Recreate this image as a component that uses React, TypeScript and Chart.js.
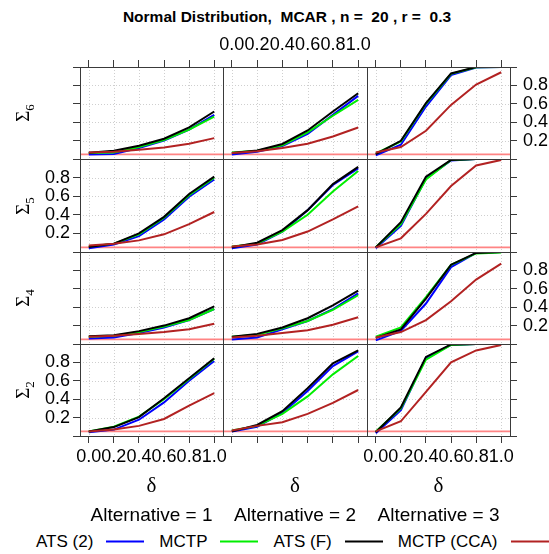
import React, { useEffect, useRef } from 'react';
import { Chart, registerables } from 'chart.js';

Chart.register(...registerables);

// ---------------- data ----------------
const deltas = [0, 0.2, 0.4, 0.6, 0.8, 1.0];
const xTickValues = [0, 0.2, 0.4, 0.6, 0.8, 1.0];
const yTickValues = [0, 0.2, 0.4, 0.6, 0.8, 1.0];
const xRange = [-0.07, 1.07];
const yRange = [0, 1.0];
const alphaLevel = 0.05;

const sigmaSubscripts = ['6', '5', '4', '2'];
const alternatives = ['1', '2', '3'];
const seriesNames = ['ATS (2)', 'MCTP', 'ATS (F)', 'MCTP (CCA)'];
const seriesColors = ['#0000ff', '#00ee00', '#000000', '#b22222'];
const titleText = 'Normal Distribution,  MCAR , n =  20 , r =  0.3';
const xAxisLabel = 'δ';

// each array: [Alternative 1, Alternative 2, Alternative 3], values at deltas
const ats2Sigma6 = [
  [0.05, 0.055, 0.12, 0.2, 0.32, 0.48],
  [0.05, 0.08, 0.14, 0.274, 0.48, 0.686],
  [0.04, 0.155, 0.57, 0.913, 0.995, 1.0],
];
const mctpSigma6 = [
  [0.065, 0.07, 0.13, 0.205, 0.32, 0.46],
  [0.07, 0.09, 0.15, 0.29, 0.47, 0.643],
  [0.06, 0.19, 0.6, 0.925, 0.998, 1.0],
];
const atsFSigma6 = [
  [0.068, 0.09, 0.144, 0.22, 0.343, 0.516],
  [0.065, 0.093, 0.163, 0.31, 0.516, 0.715],
  [0.054, 0.198, 0.607, 0.93, 1.0, 1.0],
];
const ccaSigma6 = [
  [0.07, 0.08, 0.1, 0.126, 0.166, 0.227],
  [0.065, 0.085, 0.12, 0.166, 0.245, 0.343],
  [0.07, 0.13, 0.307, 0.588, 0.81, 0.943],
];

const ats2Sigma5 = [
  [0.04, 0.08, 0.17, 0.35, 0.595, 0.78],
  [0.04, 0.08, 0.22, 0.45, 0.72, 0.9],
  [0.04, 0.28, 0.79, 0.985, 1.0, 1.0],
];
const mctpSigma5 = [
  [0.06, 0.09, 0.19, 0.37, 0.61, 0.8],
  [0.06, 0.09, 0.22, 0.4, 0.65, 0.87],
  [0.05, 0.3, 0.78, 0.99, 1.0, 1.0],
];
const atsFSigma5 = [
  [0.055, 0.09, 0.2, 0.378, 0.624, 0.81],
  [0.05, 0.1, 0.235, 0.45, 0.73, 0.915],
  [0.05, 0.32, 0.81, 0.99, 1.0, 1.0],
];
const ccaSigma5 = [
  [0.07, 0.09, 0.125, 0.19, 0.3, 0.43],
  [0.06, 0.08, 0.13, 0.22, 0.35, 0.49],
  [0.05, 0.147, 0.41, 0.71, 0.93, 0.99],
];

const ats2Sigma4 = [
  [0.06, 0.07, 0.12, 0.18, 0.26, 0.38],
  [0.05, 0.07, 0.16, 0.25, 0.38, 0.55],
  [0.04, 0.143, 0.44, 0.836, 0.99, 1.0],
];
const mctpSigma4 = [
  [0.08, 0.09, 0.13, 0.19, 0.26, 0.38],
  [0.08, 0.1, 0.17, 0.25, 0.37, 0.53],
  [0.08, 0.18, 0.51, 0.86, 0.985, 0.995],
];
const atsFSigma4 = [
  [0.085, 0.095, 0.14, 0.2, 0.28, 0.41],
  [0.08, 0.11, 0.18, 0.28, 0.42, 0.58],
  [0.067, 0.158, 0.494, 0.862, 0.99, 1.0],
];
const ccaSigma4 = [
  [0.08, 0.09, 0.11, 0.13, 0.16, 0.22],
  [0.07, 0.09, 0.12, 0.15, 0.21, 0.29],
  [0.07, 0.13, 0.26, 0.465, 0.7, 0.873],
];

const ats2Sigma2 = [
  [0.04, 0.07, 0.177, 0.365, 0.6, 0.816],
  [0.05, 0.1, 0.25, 0.49, 0.76, 0.92],
  [0.03, 0.28, 0.85, 0.99, 1.0, 1.0],
];
const mctpSigma2 = [
  [0.05, 0.1, 0.21, 0.4, 0.62, 0.84],
  [0.06, 0.11, 0.24, 0.43, 0.67, 0.87],
  [0.05, 0.3, 0.83, 0.99, 1.0, 1.0],
];
const atsFSigma2 = [
  [0.05, 0.097, 0.205, 0.41, 0.628, 0.845],
  [0.05, 0.12, 0.27, 0.52, 0.79, 0.93],
  [0.04, 0.31, 0.86, 0.995, 1.0, 1.0],
];
const ccaSigma2 = [
  [0.05, 0.07, 0.11, 0.185, 0.33, 0.466],
  [0.06, 0.11, 0.15, 0.24, 0.36, 0.5],
  [0.05, 0.16, 0.48, 0.8, 0.93, 0.99],
];

// rows top->bottom: Σ6, Σ5, Σ4, Σ2 ; series order: ATS (2), MCTP, ATS (F), MCTP (CCA)
const panelRows = [
  [ats2Sigma6, mctpSigma6, atsFSigma6, ccaSigma6],
  [ats2Sigma5, mctpSigma5, atsFSigma5, ccaSigma5],
  [ats2Sigma4, mctpSigma4, atsFSigma4, ccaSigma4],
  [ats2Sigma2, mctpSigma2, atsFSigma2, ccaSigma2],
];

// ---------------- layout ----------------
const M = 45;
const colX = [80, 223, 367];
const colW = [143, 144, 143];
const rowY = [67, 159, 252, 344];
const rowH = [92, 93, 92, 92];
const SANS = "'Liberation Sans', Arial, Helvetica, sans-serif";
const SERIF = "'Liberation Serif', 'DejaVu Serif', serif";

const panelDecor = {
  id: 'panelDecor',
  beforeDatasetsDraw(chart: any) {
    const { ctx, chartArea: a, scales } = chart;
    const xs = scales.x;
    const ys = scales.y;
    ctx.save();
    ctx.strokeStyle = '#cfcfcf';
    ctx.lineWidth = 1;
    ctx.setLineDash([1, 2]);
    xTickValues.forEach((v) => {
      const px = Math.round(xs.getPixelForValue(v)) + 0.5;
      ctx.beginPath();
      ctx.moveTo(px, a.top);
      ctx.lineTo(px, a.bottom);
      ctx.stroke();
    });
    yTickValues.forEach((v) => {
      const py = Math.round(ys.getPixelForValue(v)) + 0.5;
      ctx.beginPath();
      ctx.moveTo(a.left, py);
      ctx.lineTo(a.right, py);
      ctx.stroke();
    });
    ctx.restore();
  },
  afterDatasetsDraw(chart: any) {
    const { ctx, chartArea: a } = chart;
    ctx.save();
    ctx.strokeStyle = '#3a3a3a';
    ctx.lineWidth = 1;
    ctx.setLineDash([]);
    const l = Math.round(a.left) + 0.5;
    const t = Math.round(a.top) + 0.5;
    const r = Math.round(a.right) + 0.5;
    const b = Math.round(a.bottom) + 0.5;
    ctx.strokeRect(l, t, r - l, b - t);
    ctx.restore();
  },
};

function makeAxis(
  kind: 'x' | 'y',
  position: string,
  showTicks: boolean,
  showLabels: boolean,
  padding: number
) {
  const range = kind === 'x' ? xRange : yRange;
  const tickVals = kind === 'x' ? xTickValues : yTickValues;
  return {
    type: 'linear',
    axis: kind,
    position,
    min: range[0],
    max: range[1],
    bounds: 'data',
    afterBuildTicks: (s: any) => {
      s.ticks = tickVals.map((v) => ({ value: v }));
    },
    afterFit: (s: any) => {
      if (kind === 'x') s.height = M;
      else s.width = M;
    },
    grid: {
      display: true,
      drawOnChartArea: false,
      drawTicks: showTicks,
      tickLength: 7,
      tickColor: '#3a3a3a',
      tickWidth: 1,
    },
    border: { display: false },
    ticks: {
      display: showLabels,
      autoSkip: false,
      maxRotation: 0,
      minRotation: 0,
      padding,
      color: '#000',
      font: { family: SANS, size: 18 },
      callback: (v: any) => {
        const n = Number(v);
        if (kind === 'y' && (n <= 0 || n >= 1)) return '';
        return n.toFixed(1);
      },
    },
  };
}

function Panel({ row, col }: { row: number; col: number }) {
  const ref = useRef<HTMLCanvasElement>(null);
  useEffect(() => {
    if (!ref.current) return;
    const seriesSet = panelRows[row];
    const datasets: any[] = seriesSet.map((s, i) => ({
      label: seriesNames[i],
      data: deltas.map((d, k) => ({ x: d, y: s[col][k] })),
      borderColor: seriesColors[i],
      backgroundColor: seriesColors[i],
      borderWidth: 2,
      pointRadius: 0,
      tension: 0,
      fill: false,
      order: 4 - i,
    }));
    datasets.push({
      label: 'alpha',
      data: [
        { x: xRange[0], y: alphaLevel },
        { x: xRange[1], y: alphaLevel },
      ],
      borderColor: 'rgba(255, 110, 110, 0.85)',
      borderWidth: 1.6,
      pointRadius: 0,
      fill: false,
      order: 10,
    });
    const lastRow = panelRows.length - 1;
    const chart = new Chart(ref.current, {
      type: 'line',
      data: { datasets },
      plugins: [panelDecor],
      options: {
        responsive: false,
        animation: false,
        events: [],
        layout: { padding: 0 },
        plugins: { legend: { display: false }, tooltip: { enabled: false } },
        scales: {
          x: makeAxis('x', 'bottom', row === lastRow, row === lastRow && col !== 1, 3),
          x2: makeAxis('x', 'top', row === 0, row === 0 && col === 1, 4),
          y: makeAxis('y', 'left', col === 0, col === 0 && row % 2 === 1, 3),
          y2: makeAxis('y', 'right', col === 2, col === 2 && row % 2 === 0, 6),
        },
      } as any,
    });
    return () => chart.destroy();
  }, [row, col]);
  const w = colW[col] + 2 * M;
  const h = rowH[row] + 2 * M;
  return (
    <canvas
      ref={ref}
      width={w}
      height={h}
      style={{
        position: 'absolute',
        left: colX[col] - M,
        top: rowY[row] - M,
        width: w,
        height: h,
      }}
    />
  );
}

function Centered({ x, y, style, children }: any) {
  return (
    <div
      style={{
        position: 'absolute',
        left: x,
        top: y,
        transform: 'translate(-50%, -50%)',
        whiteSpace: 'pre',
        lineHeight: 1,
        ...style,
      }}
    >
      {children}
    </div>
  );
}

export default function App() {
  const colCenters = colX.map((x, i) => x + colW[i] / 2);
  return (
    <div
      style={{
        position: 'absolute',
        left: 0,
        top: 0,
        width: 549,
        height: 554,
        overflow: 'hidden',
        background: '#fff',
        fontFamily: SANS,
      }}
    >
      <Centered x={287} y={17} style={{ fontWeight: 'bold', fontSize: 15.5 }}>
        {titleText}
      </Centered>

      {panelRows.map((_, r) =>
        colX.map((__, c) => <Panel key={`${r}-${c}`} row={r} col={c} />)
      )}

      {sigmaSubscripts.map((sub, r) => (
        <Centered
          key={`s${r}`}
          x={22}
          y={rowY[r] + rowH[r] / 2}
          style={{ transform: 'translate(-50%, -50%) rotate(-90deg)', fontFamily: SERIF, fontSize: 19 }}
        >
          <span>Σ</span>
          <span style={{ fontSize: 13, position: 'relative', top: 5 }}>{sub}</span>
        </Centered>
      ))}

      {colCenters.map((cx, i) => (
        <Centered key={`d${i}`} x={cx} y={485} style={{ fontFamily: SERIF, fontSize: 21 }}>
          {xAxisLabel}
        </Centered>
      ))}

      {colCenters.map((cx, i) => (
        <Centered key={`a${i}`} x={cx} y={514} style={{ fontSize: 19 }}>
          {`Alternative = ${alternatives[i]}`}
        </Centered>
      ))}

      <div
        style={{
          position: 'absolute',
          left: 36,
          top: 541,
          transform: 'translateY(-50%)',
          display: 'flex',
          alignItems: 'center',
          whiteSpace: 'pre',
          fontSize: 17,
          lineHeight: 1,
        }}
      >
        {seriesNames.map((name, i) => (
          <React.Fragment key={name}>
            <span style={{ marginRight: 13 }}>{name}</span>
            <span
              style={{
                display: 'inline-block',
                width: 38,
                height: 2,
                background: seriesColors[i],
                marginRight: 15,
              }}
            />
          </React.Fragment>
        ))}
      </div>
    </div>
  );
}
